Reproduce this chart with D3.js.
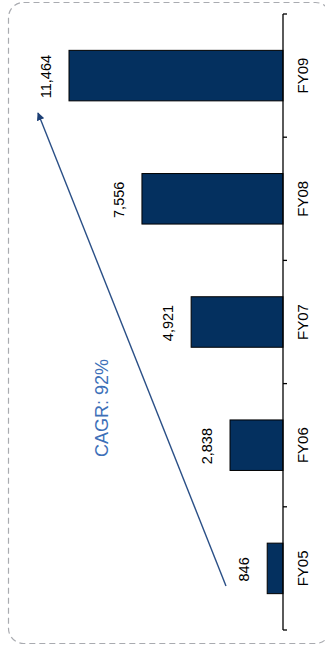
<!DOCTYPE html>
<html><head><meta charset="utf-8">
<script src="https://cdn.jsdelivr.net/npm/d3@7"></script>
<style>html,body{margin:0;padding:0;background:#fff;}svg{display:block;}</style>
</head><body><div id="chart"></div>
<script>
const categories = ["FY05", "FY06", "FY07", "FY08", "FY09"];
const values = [846, 2838, 4921, 7556, 11464];
const valueLabels = ["846", "2,838", "4,921", "7,556", "11,464"];
const cagrLabel = "CAGR: 92%";

const W = 325, H = 654;
const svg = d3.select("#chart").append("svg").attr("width", W).attr("height", H);
const font = "'Liberation Sans', Arial, sans-serif";

// dashed rounded frame
svg.append("rect").attr("x", 8.5).attr("y", 2.5).attr("width", 322).attr("height", 641)
  .attr("rx", 15).attr("fill", "none").attr("stroke", "#a9abb0").attr("stroke-width", 1.2)
  .attr("stroke-dasharray", "6,4");

const axisX = 283;
const y = d3.scaleBand().domain(categories).range([630, 14]).paddingInner(0.59).paddingOuter(0.295);
const x = d3.scaleLinear().domain([0, 11464]).range([axisX, 69]);
const step = y.step(), gap = (step - y.bandwidth()) / 2;

// bars
svg.selectAll("rect.bar").data(categories).enter().append("rect").attr("class", "bar")
  .attr("x", (d, i) => x(values[i])).attr("y", d => y(d))
  .attr("width", (d, i) => axisX - x(values[i])).attr("height", y.bandwidth())
  .attr("fill", "#04305f").attr("stroke", "#000").attr("stroke-width", 1);

// axis
svg.append("line").attr("x1", axisX).attr("x2", axisX).attr("y1", 14).attr("y2", 630)
  .attr("stroke", "#000").attr("stroke-width", 1.3);
const bounds = categories.map(c => y(c) - gap).concat([y(categories[0]) + y.bandwidth() + gap]);
svg.selectAll("line.tick").data(bounds).enter().append("line").attr("class", "tick")
  .attr("x1", axisX).attr("x2", axisX + 4).attr("y1", d => d).attr("y2", d => d)
  .attr("stroke", "#000").attr("stroke-width", 1.3);

// category labels
svg.selectAll("text.cat").data(categories).enter().append("text").attr("class", "cat")
  .attr("transform", d => `translate(307.5,${y(d) + y.bandwidth() / 2}) rotate(-90)`)
  .attr("text-anchor", "middle").attr("font-family", font).attr("font-size", 15)
  .attr("fill", "#000").text(d => d);

// value labels
svg.selectAll("text.val").data(categories).enter().append("text").attr("class", "val")
  .attr("transform", (d, i) => `translate(${x(values[i]) - 18},${y(d) + y.bandwidth() / 2 + 1}) rotate(-90)`)
  .attr("text-anchor", "middle").attr("font-family", font).attr("font-size", 14.5)
  .attr("fill", "#000").text((d, i) => valueLabels[i]);

// CAGR arrow
const defs = svg.append("defs");
defs.append("marker").attr("id", "ah").attr("viewBox", "0 0 10 10").attr("refX", 9).attr("refY", 5)
  .attr("markerWidth", 8).attr("markerHeight", 8).attr("markerUnits", "userSpaceOnUse")
  .attr("orient", "auto").append("path").attr("d", "M0,0 L10,5 L0,10 Z").attr("fill", "#1d3f75");
const start = [226, 586];
const end = [38, 113];
svg.append("line").attr("x1", start[0]).attr("y1", start[1]).attr("x2", end[0]).attr("y2", end[1])
  .attr("stroke", "#2a4f86").attr("stroke-width", 1.4).attr("marker-end", "url(#ah)");

svg.append("text").attr("transform", "translate(107.5,408) rotate(-90)")
  .attr("text-anchor", "middle").attr("font-family", font).attr("font-size", 18)
  .attr("fill", "#3d70b8").text(cagrLabel);
</script></body></html>
